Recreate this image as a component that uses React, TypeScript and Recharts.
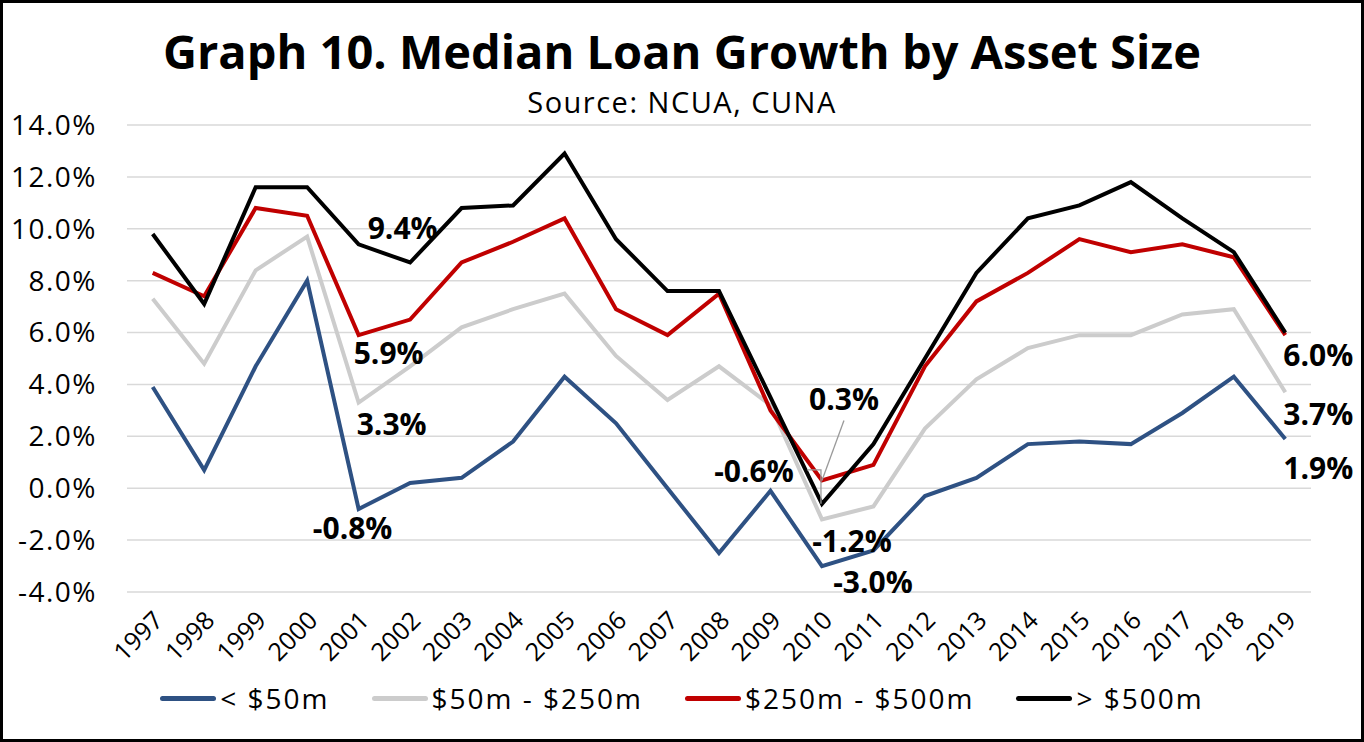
import React from "react";
import { CartesianGrid, Line, LineChart, XAxis, YAxis } from "recharts";

const years = ["1997", "1998", "1999", "2000", "2001", "2002", "2003", "2004", "2005", "2006", "2007", "2008", "2009", "2010", "2011", "2012", "2013", "2014", "2015", "2016", "2017", "2018", "2019"];

const under50 = [3.9, 0.7, 4.7, 8.0, -0.8, 0.2, 0.4, 1.8, 4.3, 2.5, 0.0, -2.5, -0.1, -3.0, -2.4, -0.3, 0.4, 1.7, 1.8, 1.7, 2.9, 4.3, 1.9];
const from50to250 = [7.3, 4.8, 8.4, 9.7, 3.3, 4.7, 6.2, 6.9, 7.5, 5.1, 3.4, 4.7, 3.2, -1.2, -0.7, 2.3, 4.2, 5.4, 5.9, 5.9, 6.7, 6.9, 3.7];
const from250to500 = [8.3, 7.4, 10.8, 10.5, 5.9, 6.5, 8.7, 9.5, 10.4, 6.9, 5.9, 7.5, 3.0, 0.3, 0.9, 4.7, 7.2, 8.3, 9.6, 9.1, 9.4, 8.9, 5.9];
const over500 = [9.8, 7.1, 11.6, 11.6, 9.4, 8.7, 10.8, 10.9, 12.9, 9.6, 7.6, 7.6, 3.5, -0.6, 1.7, 5.0, 8.3, 10.4, 10.9, 11.8, 10.4, 9.1, 6.0];

const yTicks = [-4, -2, 0, 2, 4, 6, 8, 10, 12, 14];

const series = [
  { key: "under50", name: "< $50m", color: "#2E5183", values: under50 },
  { key: "from50to250", name: "$50m - $250m", color: "#CCCCCC", values: from50to250 },
  { key: "from250to500", name: "$250m - $500m", color: "#C00000", values: from250to500 },
  { key: "over500", name: "> $500m", color: "#000000", values: over500 },
];

// where the value labels sit, relative to their point
type Spot = { dx: number; dy: number; leader?: number[][] };
const labelSpots: Record<string, Record<number, Spot>> = {
  under50: { 4: { dx: -6, dy: 19 }, 13: { dx: 51, dy: 15 }, 22: { dx: 33, dy: 29 } },
  from50to250: { 4: { dx: 33, dy: 21 }, 13: { dx: 30, dy: 21 }, 22: { dx: 33, dy: 21 } },
  from250to500: { 4: { dx: 30, dy: 17 }, 13: { dx: 22, dy: -82, leader: [[22, -60], [0, 0]] } },
  over500: {
    4: { dx: 44, dy: -17 },
    13: { dx: -68, dy: -33, leader: [[-15, -34], [-1, -34], [-1, 0]] },
    22: { dx: 33, dy: 22 },
  },
};

const data = years.map((year, i) => {
  const row: Record<string, string | number> = { year };
  series.forEach((s) => (row[s.key] = s.values[i]));
  return row;
});

const FONT = "'Open Sans', sans-serif";

function makeLabel(seriesKey: string) {
  return (props: any) => {
    const { x, y, index, value } = props;
    const spot = labelSpots[seriesKey]?.[index];
    if (!spot || x == null || y == null) return null;
    return (
      <g key={`${seriesKey}-${index}`}>
        {spot.leader && (
          <polyline
            points={spot.leader.map(([lx, ly]) => `${x + lx},${y + ly}`).join(" ")}
            fill="none"
            stroke="#9a9a9a"
            strokeWidth={1.3}
          />
        )}
        <text
          x={x + spot.dx}
          y={y + spot.dy}
          textAnchor="middle"
          dominantBaseline="central"
          fontFamily={FONT}
          fontWeight={700}
          fontSize={30}
          fill="#000"
        >
          {Number(value).toFixed(1)}%
        </text>
      </g>
    );
  };
}

function YearTick({ x, y, payload }: any) {
  const ax = x + 12;
  const ay = y + 30;
  return (
    <text x={ax} y={ay} transform={`rotate(-45, ${ax}, ${ay})`} textAnchor="end" fontFamily={FONT} fontSize={25} fill="#000">
      {payload.value}
    </text>
  );
}

export default function App() {
  return (
    <div style={{ position: "absolute", left: 0, top: 0, width: 1364, height: 742, background: "#fff", fontFamily: FONT }}>
      <div style={{ position: "absolute", top: 19, left: 0, width: 1364, textAlign: "center", fontSize: 47, fontWeight: 700, lineHeight: "64px", color: "#000" }}>
        Graph 10. Median Loan Growth by Asset Size
      </div>
      <div style={{ position: "absolute", top: 83, left: 0, width: 1364, textAlign: "center", fontSize: 29, letterSpacing: 1.5, lineHeight: "38px", color: "#000" }}>
        Source: NCUA, CUNA
      </div>
      <div style={{ position: "absolute", left: 0, top: 0 }}>
        <LineChart width={1364} height={742} data={data} margin={{ top: 125, right: 53, left: 27, bottom: 70 }}>
          <CartesianGrid vertical={false} stroke="#D9D9D9" strokeWidth={1.5} />
          <XAxis
            dataKey="year"
            axisLine={false}
            tickLine={false}
            tickSize={0}
            tickMargin={0}
            height={80}
            interval={0}
            padding={{ left: 25.7, right: 25.7 }}
            tick={<YearTick />}
          />
          <YAxis
            domain={[-4, 14]}
            ticks={yTicks}
            width={100}
            axisLine={false}
            tickLine={false}
            tickMargin={24}
            tickFormatter={(v: number) => `${v.toFixed(1)}%`}
            tick={{ fontFamily: FONT, fontSize: 28, fill: "#000", letterSpacing: 1.5 }}
          />
          {series.map((s) => (
            <Line
              key={s.key}
              dataKey={s.key}
              name={s.name}
              type="linear"
              stroke={s.color}
              strokeWidth={4}
              dot={false}
              activeDot={false}
              isAnimationActive={false}
              label={makeLabel(s.key)}
            />
          ))}
        </LineChart>
      </div>
      <div style={{ position: "absolute", top: 679, left: 0, width: 1364, display: "flex", justifyContent: "center", gap: 42, fontSize: 28, letterSpacing: 2, lineHeight: "38px", color: "#000" }}>
        {series.map((s) => (
          <div key={s.key} style={{ display: "flex", alignItems: "center" }}>
            <span style={{ display: "inline-block", width: 56, height: 5, borderRadius: 3, background: s.color, marginRight: 4 }} />
            <span>{s.name}</span>
          </div>
        ))}
      </div>
      <div style={{ position: "absolute", left: 0, top: 0, width: 1364, height: 742, boxSizing: "border-box", border: "3px solid #000", pointerEvents: "none" }} />
    </div>
  );
}
